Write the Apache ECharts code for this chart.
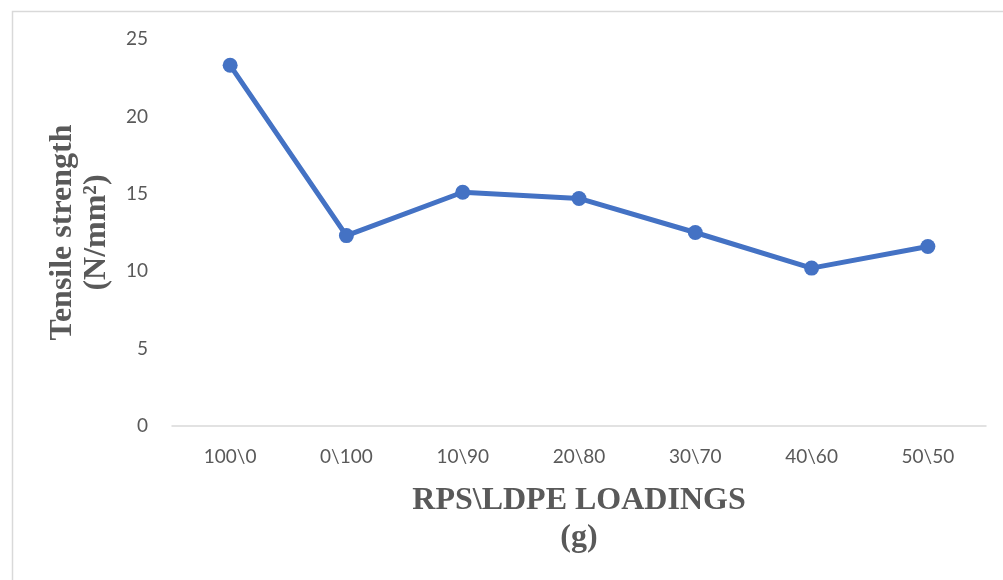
<!DOCTYPE html>
<html>
<head>
<meta charset="utf-8">
<script src="https://cdn.jsdelivr.net/npm/echarts@6/dist/echarts.min.js"></script>
<style>
html,body{margin:0;padding:0;background:#fff;}
#c{width:1003px;height:580px;}
</style>
</head>
<body>
<div id="c"></div>
<script>
const categories = ['100\\0', '0\\100', '10\\90', '20\\80', '30\\70', '40\\60', '50\\50'];
const tensileStrength = [23.3, 12.3, 15.1, 14.7, 12.5, 10.2, 11.6];
const yTicks = { min: 0, max: 25, interval: 5 };
const xTitle = 'RPS\\LDPE LOADINGS\n(g)';
const yTitle = 'Tensile strength\n(N/mm²)';

const chart = echarts.init(document.getElementById('c'), null, { renderer: 'canvas' });
chart.setOption({
  animation: false,
  backgroundColor: '#fff',
  graphic: [{
    type: 'rect',
    left: 10, top: 9,
    shape: { width: 1100, height: 700 },
    style: { fill: 'none', stroke: '#d9d9d9', lineWidth: 1.5 },
    silent: true
  }],
  grid: { left: 172, right: 17, top: 39, bottom: 154 },
  xAxis: {
    type: 'category',
    data: categories,
    boundaryGap: true,
    axisLine: { lineStyle: { color: '#d9d9d9', width: 1.5 } },
    axisTick: { show: false },
    axisLabel: { color: '#595959', fontSize: 19, fontFamily: 'Lato, "Open Sans", sans-serif', margin: 21 },
    name: xTitle,
    nameLocation: 'middle',
    nameGap: 56,
    nameTextStyle: { color: '#595959', fontSize: 32, fontWeight: 'bold', fontFamily: '"Liberation Serif", "Times New Roman", serif', lineHeight: 37, verticalAlign: 'top' }
  },
  yAxis: {
    type: 'value',
    min: yTicks.min, max: yTicks.max, interval: yTicks.interval,
    splitLine: { show: false },
    axisLine: { show: false },
    axisTick: { show: false },
    axisLabel: { color: '#595959', fontSize: 19, fontFamily: 'Lato, "Open Sans", sans-serif', margin: 24 },
    name: yTitle,
    nameLocation: 'middle',
    nameGap: 58,
    nameRotate: 90,
    nameTextStyle: { color: '#595959', fontSize: 32, fontWeight: 'bold', fontFamily: '"Liberation Serif", "Times New Roman", serif', lineHeight: 34 }
  },
  series: [{
    type: 'line',
    data: tensileStrength,
    symbol: 'circle',
    symbolSize: 15,
    lineStyle: { color: '#4472C4', width: 5 },
    itemStyle: { color: '#4472C4' }
  }]
});
</script>
</body>
</html>
